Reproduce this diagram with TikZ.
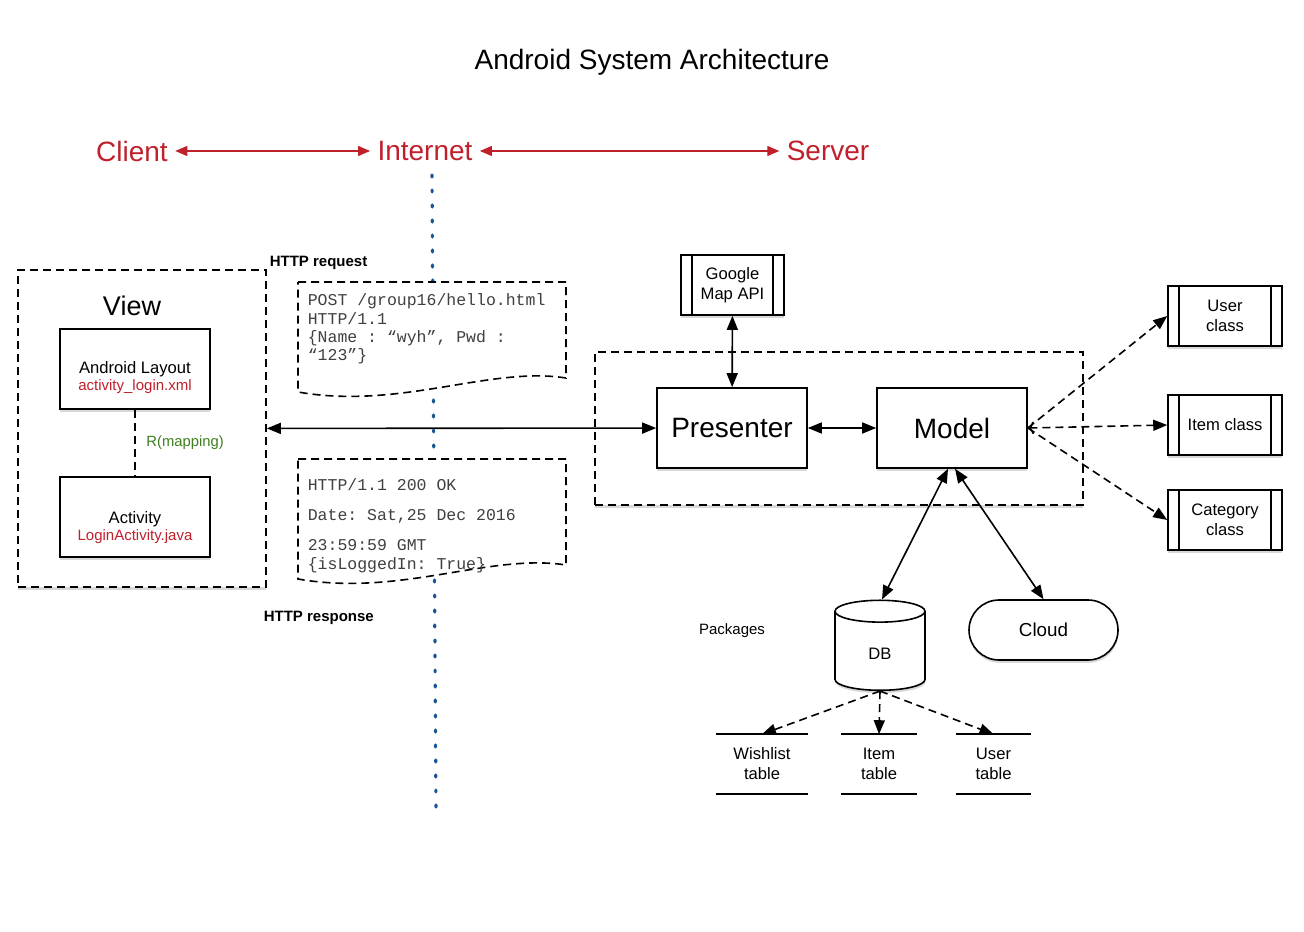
\documentclass[tikz,border=0pt]{standalone}
\usepackage{fontspec}
\setmainfont{Liberation Sans}
\setmonofont{Liberation Mono}
\usetikzlibrary{arrows.meta, shapes.geometric, shadows, positioning}
\definecolor{netred}{RGB}{192,32,44}
\definecolor{mapgreen}{RGB}{62,128,30}
\definecolor{netblue}{RGB}{24,84,150}

\begin{document}
\begin{tikzpicture}[x=0.5pt, y=-0.5pt, line width=0.8pt,
        >={Triangle[length=7pt, width=5.5pt]},
        lift/.style = {drop shadow={shadow xshift=0.2pt, shadow yshift=-1.4pt, opacity=0.3}},
        main/.style = {draw, fill=white, lift, minimum width=75pt, minimum height=40pt},
        big/.style = {main, font=\fontsize{14}{16}\selectfont},
        small/.style = {font=\fontsize{8.3}{10}\selectfont, align=center},
        proc/.style = {draw, fill=white, lift, small, minimum height=30pt,
            path picture={\draw ([xshift=5.5pt]path picture bounding box.north west) -- ([xshift=5.5pt]path picture bounding box.south west)
                ([xshift=-5.5pt]path picture bounding box.north east) -- ([xshift=-5.5pt]path picture bounding box.south east);}},
        tbl/.style = {fill=white, small, minimum height=29pt},
        dashframe/.style = {draw, fill=white, dash pattern=on 4pt off 2.5pt, lift},
        paper/.style = {draw, fill=white, dash pattern=on 4pt off 2.5pt},
        zone/.style = {text=netred, font=\fontsize{14}{16}\selectfont},
        mono/.style = {font=\fontsize{8.25}{9.17}\ttfamily, text=black!75, align=left, anchor=north west, inner sep=0pt},
        tag/.style = {font=\bfseries\fontsize{7.5}{9}\selectfont, anchor=west, inner sep=0pt},
        dep/.style = {->, dash pattern=on 4pt off 2.5pt}]

    \useasboundingbox (0,0) rectangle (1304,931);

    \node[font=\fontsize{14}{16}\selectfont] (title) at (652,62) {Android System Architecture};

    \node[zone] (client)   at (132,151) {Client};
    \node[zone] (internet) at (425,151) {Internet};
    \node[zone] (server)   at (828,151) {Server};
    \draw[{Triangle[length=6pt, width=5pt]}-{Triangle[length=6pt, width=5pt]}, netred, line width=0.6pt] (client) -- (internet);
    \draw[{Triangle[length=6pt, width=5pt]}-{Triangle[length=6pt, width=5pt]}, netred, line width=0.6pt] (internet) -- (server);

    % internet border
    \coordinate (top) at (432,175);
    \coordinate (bottom) at (436,812);
    \draw[netblue, line width=1.6pt, line cap=round, dash pattern=on 1pt off 6.5pt] (top) -- (bottom);

    % client side
    \node[dashframe, minimum width=124pt, minimum height=158.5pt] (view) at (142,428.5) {};
    \node[font=\fontsize{13.5}{15}\selectfont] (viewtitle) at (132,306) {View};
    \node[main] (layout)   at (135,369) {};
    \node[main] (activity) at (135,517) {};
    \node[small, font=\fontsize{8.3}{8.5}\selectfont] (layouttext) at (135,378) {Android Layout\\\textcolor{netred}{\fontsize{7.5}{8.5}\selectfont activity\_login.xml}};
    \node[small, font=\fontsize{8.3}{8.5}\selectfont] (activitytext) at (135,528) {Activity\\\textcolor{netred}{\fontsize{7.5}{8.5}\selectfont LoginActivity.java}};
    \draw[dash pattern=on 4pt off 2.5pt] (layout) -- node[right=2pt, text=mapgreen, font=\fontsize{7.4}{9}\selectfont] {R(mapping)} (activity);

    % messages
    \draw[paper] (298,282) -- (566,282) -- (566,378) .. controls (490,366) and (400,410) .. (298,392) -- cycle;
    \draw[paper] (298,459) -- (566,459) -- (566,565) .. controls (490,553) and (400,597) .. (298,579) -- cycle;
    \node[mono] (request) at (307,293) {POST /group16/hello.html\\HTTP/1.1\\\{Name : “wyh”, Pwd :\\“123”\}};
    \node[mono] (response) at (307,478) {HTTP/1.1 200 OK\\[5.85pt]Date: Sat,25 Dec 2016\\[5.85pt]23:59:59 GMT\\\{isLoggedIn: True\}};
    \node[tag] (reqtag) at (269,263) {HTTP request};
    \node[tag] (resptag) at (263,618) {HTTP response};

    % server side
    \node[dashframe, minimum width=244pt, minimum height=76.5pt] (serverbox) at (839,428.5) {};
    \node[big] (presenter) at (732,428) {Presenter};
    \node[big] (model) at (952,428) {Model};
    \node[proc, minimum width=51.5pt] (gmap) at (732.5,285) {Google\\Map API};

    \node[proc, minimum width=57pt] (user)     at (1225,316) {User\\class};
    \node[proc, minimum width=57pt] (item)     at (1225,425) {Item class};
    \node[proc, minimum width=57pt] (category) at (1225,520) {Category\\class};

    \node[cylinder, shape border rotate=90, draw, fill=white, lift, aspect=0.6, minimum width=45pt, minimum height=45pt, small] (db) at (880,654) {DB};
    \node[draw, fill=white, lift, rounded corners=15pt, minimum width=74.5pt, minimum height=30pt, font=\fontsize{9.4}{11}\selectfont] (cloud) at (1043.5,630) {Cloud};
    \node[font=\fontsize{7.5}{9}\selectfont] (packages) at (732,631) {Packages};

    \node[tbl, minimum width=45pt]   (wish) at (762,764)   {Wishlist\\table};
    \node[tbl, minimum width=37pt]   (itab) at (879,764)   {Item\\table};
    \node[tbl, minimum width=36.5pt] (utab) at (993.5,764) {User\\table};
    \foreach \t in {wish, itab, utab}
        \draw (\t.north west) -- (\t.north east) (\t.south west) -- (\t.south east);

    \draw[<->] (view) -- (presenter);
    \draw[<->] (gmap) -- (presenter);
    \draw[<->] (presenter) -- (model);
    \draw[dep] (model.east) -- (user.west);
    \draw[dep, {To[length=3pt]}->] (model.east) -- (item.west);
    \draw[dep] (model.east) -- (category.west);
    \draw[<->] ([xshift=-2pt]model.south) -- ([xshift=1pt]db.north);
    \draw[<->] ([xshift=1.5pt]model.south) -- (cloud.north);
    \draw[dep] (db.south) -- (wish.north);
    \draw[dep] (db.south) -- (itab.north);
    \draw[dep] (db.south) -- (utab.north);

\end{tikzpicture}
\end{document}
